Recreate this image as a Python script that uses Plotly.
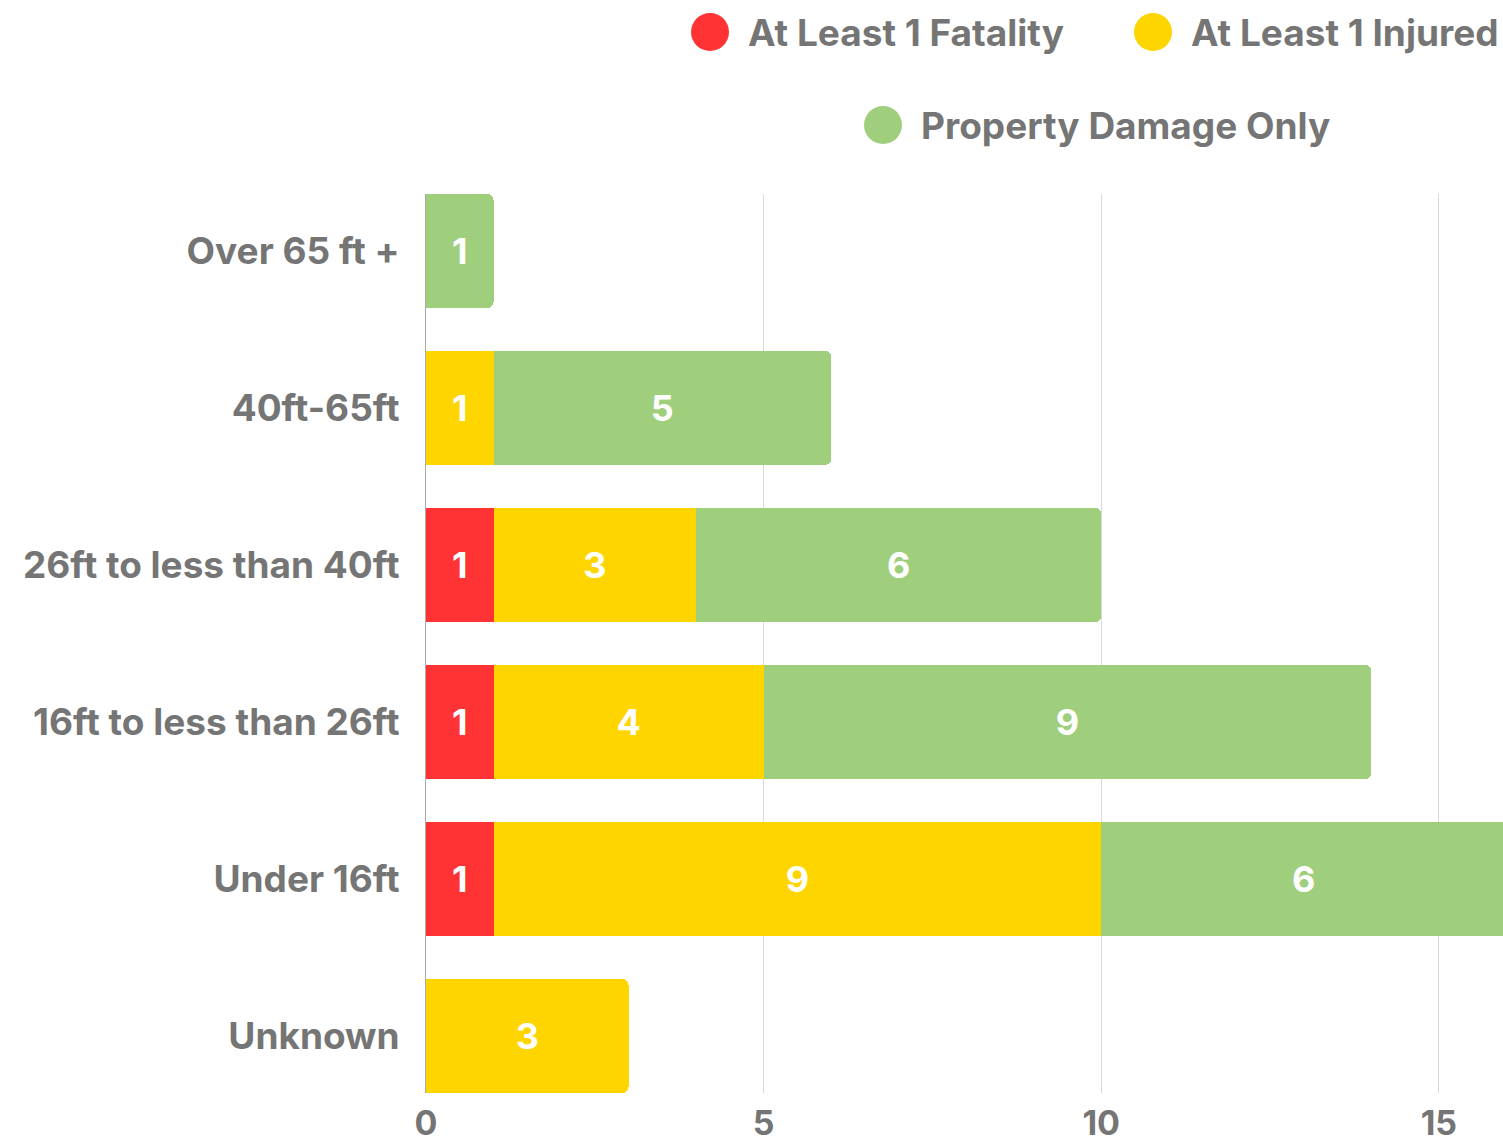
import plotly.graph_objects as go

categories = ["Over 65 ft +", "40ft-65ft", "26ft to less than 40ft",
              "16ft to less than 26ft", "Under 16ft", "Unknown"]
series_names = ["At Least 1 Fatality", "At Least 1 Injured", "Property Damage Only"]
fatality = [0, 0, 1, 1, 1, 0]
injured = [0, 1, 3, 4, 9, 3]
property_only = [1, 5, 6, 9, 6, 0]
colors = ["#FF3333", "#FFD500", "#9FCF7D"]
x_ticks = [0, 5, 10, 15]

FONT = "Inter"
GREY = "#757575"

fig = go.Figure()
for name, vals, col in zip(series_names, [fatality, injured, property_only], colors):
    fig.add_trace(go.Bar(
        y=categories,
        x=[v if v else None for v in vals],
        name=name,
        orientation="h",
        marker=dict(color=col, line=dict(width=0)),
        text=[str(v) if v else "" for v in vals],
        textposition="inside",
        insidetextanchor="middle",
        textangle=0,
        textfont=dict(family=FONT, size=36, color="white", weight="bold"),
        showlegend=False,
        hoverinfo="x+y+name",
    ))

W, H = 1503, 1147
plot_left = 426
plot_top, plot_bottom = 194, 1093
plot_h = plot_bottom - plot_top
plot_w = W - plot_left

def py(pix):
    return 1 - (pix - plot_top) / plot_h

def px(pix):
    return (pix - plot_left) / plot_w

# Manual legend: circles + text (page pixel positions)
legend_items = [(series_names[0], colors[0], 710, 32),
                (series_names[1], colors[1], 1153, 32),
                (series_names[2], colors[2], 883, 125)]
shapes = []
annotations = []
for name, col, cx, cy in legend_items:
    shapes.append(dict(type="circle", xref="paper", yref="paper",
                       xsizemode="pixel", ysizemode="pixel",
                       xanchor=px(cx), yanchor=py(cy),
                       x0=-19, x1=19, y0=-19, y1=19,
                       fillcolor=col, line=dict(width=0)))
    annotations.append(dict(text=name, xref="paper", yref="paper",
                            x=px(cx + 36), y=py(cy),
                            xanchor="left", yanchor="middle", showarrow=False,
                            font=dict(family=FONT, size=37, color=GREY, weight="bold")))

fig.update_layout(
    barmode="stack",
    bargap=0.274,
    barcornerradius=6,
    width=W, height=H,
    margin=dict(l=plot_left, r=0, t=plot_top, b=H - plot_bottom, pad=0, autoexpand=False),
    plot_bgcolor="white", paper_bgcolor="white",
    font=dict(family=FONT, size=37, color=GREY, weight="bold"),
    shapes=shapes,
    annotations=annotations,
    xaxis=dict(range=[0, 15.95], tickvals=x_ticks, showgrid=True,
               gridcolor="#D9D9D9", gridwidth=1, zeroline=False,
               showline=False, ticks="", ticklabelstandoff=7, automargin=False,
               tickfont=dict(family=FONT, size=34, color=GREY, weight="bold")),
    yaxis=dict(categoryorder="array", categoryarray=categories,
               range=[5.363, -0.363], showgrid=False, zeroline=False,
               showline=True, linecolor="#AAAAAA", linewidth=1, automargin=False,
               ticks="", ticklabelstandoff=18,
               tickfont=dict(family=FONT, size=37, color=GREY, weight="bold")),
)

fig.write_html(
    "out.html",
    config={"displayModeBar": False},
    post_script="document.body.style.margin='0';document.body.style.overflow='hidden';",
)
